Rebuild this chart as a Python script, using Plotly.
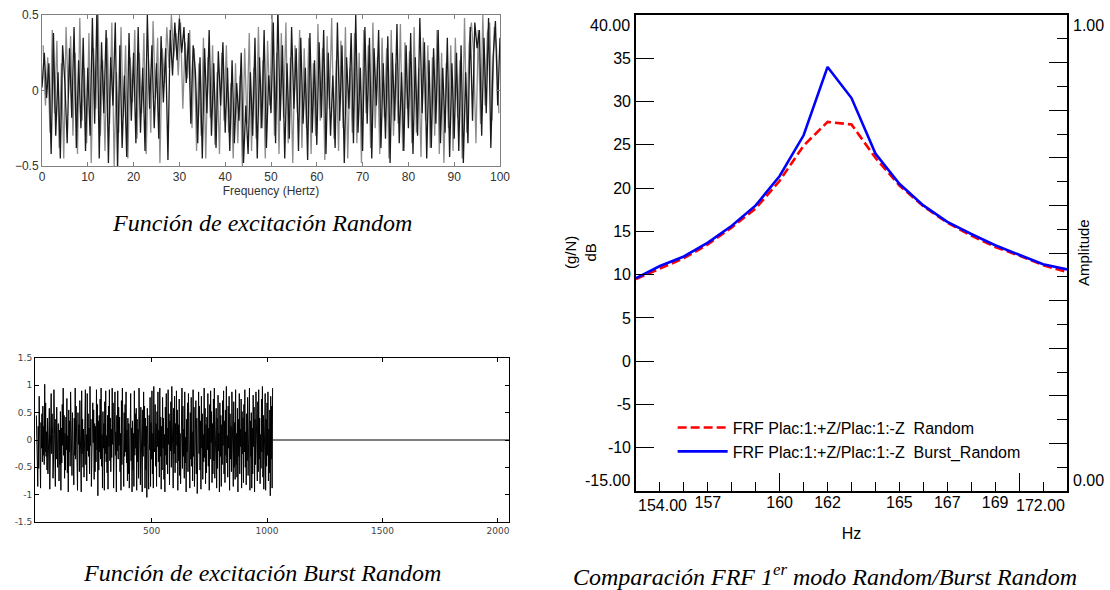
import numpy as np
import plotly.graph_objects as go

# --- Random excitation (top left), 0..100 Hz ---
random_dark = [0.02, 0.25, -0.05, 0.18, -0.42, 0.38, -0.30, 0.12, -0.45, 0.30, 0.05, -0.35, 0.28, -0.18, 0.42, -0.38, 0.20, -0.25, 0.35, -0.40, 0.15,
               -0.30, 0.48, -0.22, 0.55, -0.45, 0.32, -0.15, 0.40, -0.48, 0.22, -0.10, 0.45, -0.52, 0.30, -0.38, 0.10, -0.44, 0.38, -0.20, 0.25,
               -0.35, 0.42, -0.28, 0.15, -0.40, 0.50, -0.12, 0.30, -0.25, 0.18, -0.32, 0.36, -0.08, 0.28, -0.46, 0.40, 0.10, 0.45, 0.20, 0.48,
               0.25, 0.42, 0.05, 0.38, -0.22, 0.30, 0.12, -0.35, 0.22, -0.45, 0.28, -0.15, 0.40, -0.30, 0.18, -0.38, 0.26, -0.10, 0.32, -0.28,
               0.15, -0.40, 0.20, -0.35, 0.05, -0.20, 0.25, -0.48, -0.10, -0.42, 0.12, -0.30, 0.35, -0.45, 0.22, -0.25, 0.40, -0.38, 0.10, -0.15,
               0.45, -0.35, 0.55, -0.20, 0.30, -0.45, 0.18, -0.32, 0.42, -0.12, 0.28, -0.40, 0.35, -0.22, 0.15, -0.46, 0.38, -0.28, 0.20, -0.36,
               0.32, -0.18, 0.40, -0.42, 0.25, -0.30, 0.10, -0.38, 0.45, -0.20, 0.30, -0.48, 0.22, -0.12, 0.38, -0.35, 0.50, -0.28, 0.15, -0.40,
               0.42, -0.22, 0.35, -0.45, 0.28, -0.10, 0.40, -0.38, 0.18, -0.32, 0.36, -0.48, 0.25, -0.20, 0.44, -0.35, 0.12, -0.40, 0.30, -0.25,
               0.38, -0.42, 0.22, -0.30, 0.48, -0.15, 0.32, -0.45, 0.20, -0.38, 0.28, -0.22, 0.40, -0.35, 0.15, -0.28, 0.35, -0.44, 0.18, -0.32,
               0.25, -0.40, 0.30, -0.48, 0.12, -0.35, 0.42, -0.20, 0.45, 0.28, 0.40, -0.30, 0.35, -0.15, 0.48, -0.38, 0.22, 0.46, -0.10, 0.35]
random_grey = [0.30, -0.10, 0.22, -0.28, 0.40, -0.15, 0.33, -0.38, 0.18, -0.45, 0.42, -0.05, 0.36, -0.30, 0.25, -0.42, 0.48, -0.20, 0.15, -0.35,
               0.38, -0.48, 0.28, -0.12, 0.50, -0.30, 0.20, -0.40, 0.35, -0.22, 0.45, -0.50, 0.12, -0.28, 0.42, -0.18, 0.30, -0.45, 0.22, -0.08,
               0.40, -0.32, 0.25, -0.15, 0.38, -0.42, 0.20, -0.28, 0.46, -0.05, 0.35, -0.48, 0.28, 0.05, 0.42, 0.15, 0.50, 0.22, 0.38, 0.10,
               0.45, -0.12, 0.32, 0.08, 0.40, -0.25, 0.28, -0.40, 0.18, -0.30, 0.35, -0.45, 0.22, -0.18, 0.30, -0.36, 0.12, -0.42, 0.25, -0.20,
               0.30, -0.28, 0.05, -0.45, 0.18, -0.35, 0.10, -0.50, 0.28, -0.22, 0.38, -0.40, 0.15, -0.32, 0.42, -0.25, 0.20, -0.45, 0.33, -0.10,
               0.50, -0.30, 0.25, -0.42, 0.38, -0.18, 0.45, -0.35, 0.22, -0.48, 0.30, -0.15, 0.40, -0.38, 0.28, -0.25, 0.35, -0.42, 0.18, -0.30,
               0.44, -0.20, 0.28, -0.46, 0.36, -0.12, 0.48, -0.32, 0.20, -0.40, 0.33, -0.25, 0.42, -0.45, 0.15, -0.28, 0.38, -0.35, 0.25, -0.48,
               0.40, -0.15, 0.30, -0.38, 0.45, -0.25, 0.22, -0.42, 0.35, -0.18, 0.28, -0.45, 0.40, -0.30, 0.18, -0.22, 0.44, -0.40, 0.32, -0.12,
               0.26, -0.35, 0.42, -0.28, 0.15, -0.44, 0.35, -0.20, 0.30, -0.38, 0.22, -0.30, 0.40, -0.42, 0.25, -0.48, 0.18, -0.25, 0.30, -0.40,
               0.35, -0.18, 0.20, -0.45, 0.48, -0.28, 0.30, 0.45, 0.25, -0.35, 0.40, -0.22, 0.50, -0.10, 0.38, 0.45, -0.20, 0.42, 0.28, -0.15]

# --- Burst random (bottom left): samples 1..1024, then silence up to 2048 ---
burst_vals = [0.45, -0.38, 0.12, -0.85, 0.25, -0.52, 0.80, 0.10, -0.35, -0.88, 0.32, -0.15, 0.48, -0.40, 0.62, -0.28,
              0.25, -0.45, 1.02, -0.22, 0.68, -0.30, 0.15, -0.55, 0.40, -0.62, 0.05, -0.15, 0.58, -0.90, 0.35, -0.20,
              0.85, -0.25, 0.48, 0.10, -0.70, -0.40, 0.92, -0.12, 0.20, -0.85, 0.38, -0.35, 0.60, 0.05, -0.50, 0.28,
              0.30, -0.75, 0.18, -0.45, 0.52, -0.92, 0.22, -0.42, 0.65, -0.10, 0.95, -0.28, 0.45, -0.70, 0.12, -0.55,
              0.42, -0.18, 0.76, -0.60, 0.08, -0.95, 0.55, -0.22, 0.35, -0.48, 0.88, 0.02, -0.30, -0.65, 0.50, -0.12,
              0.18, -0.82, 0.40, -0.28, 0.95, -0.35, 0.62, 0.15, -0.45, -0.92, 0.50, -0.08, 0.28, -0.58, 0.72, -0.40,
              0.05, -0.95, 0.90, -0.25, 0.38, -0.50, 0.20, -0.68, 0.42, -0.15, 0.92, -0.45, 0.10, -0.75, 0.85, -0.20,
              0.48, -0.30, 0.22, -0.62, 0.98, -0.10, 0.38, -0.85, 0.15, -0.30, 0.68, -0.05, 0.55, -0.72, 0.30, -0.58,
              0.25, -0.40, 0.92, -0.18, 0.65, -1.02, 0.35, -0.55, 0.45, -0.22, 0.75, -0.35, 0.95, -0.48, 0.10, -0.88,
              0.52, -0.15, 0.30, -0.92, 0.70, -0.25, 0.90, -0.40, 0.08, -0.60, 0.45, -0.90, 0.62, -0.12, 0.92, -0.38,
              0.40, -0.58, 0.20, -0.32, 0.95, -0.08, 0.68, -0.88, 0.25, -0.45, 0.88, -0.28, 0.15, -0.95, 0.45, -0.20,
              0.90, -0.35, 0.60, -0.10, 0.42, -0.58, 0.12, -0.92, 0.72, -0.45, 0.95, -0.18, 0.32, -0.85, 0.50, -0.30,
              0.65, -0.22, 0.88, -0.42, 0.18, -0.75, 0.40, -0.62, 0.30, -0.88, 0.05, -0.52, 0.85, -0.38, 0.22, -0.95,
              0.35, -0.55, 0.12, -0.85, 0.90, -0.28, 0.48, -0.15, 0.58, -0.92, 0.38, -0.40, 0.20, -0.70, 0.95, -0.10,
              0.28, -0.82, 0.60, -0.35, 0.15, -0.95, 0.55, -0.30, 0.88, -0.12, 0.62, -0.88, 0.40, -0.55, 0.25, -1.05,
              0.58, -0.40, 0.20, -0.90, 0.45, -0.18, 0.78, -0.85, 0.32, -0.35, 0.90, -0.62, 0.12, -0.88, 0.98, -0.15,
              -0.22, 0.65, -0.48, 0.30, -0.85, 0.52, -0.12, 0.88, -0.40, 0.18, -0.68, 0.95, -0.30, 0.42, -0.90, 0.25,
              -0.55, 0.78, -0.15, 0.40, -0.72, 0.10, -0.95, 0.60, -0.28, 0.85, -0.45, 0.22, -0.62, 0.92, -0.08, 0.48,
              -0.82, 0.35, -0.20, 0.70, -0.50, 0.98, -0.35, 0.15, -0.88, 0.58, -0.25, 0.80, -0.60, 0.30, -0.42, 0.90,
              -0.10, 0.55, -0.92, 0.28, -0.38, 0.75, -0.65, 0.12, -0.80, 0.45, -0.18, 0.95, -0.52, 0.62, -0.30, 0.20,
              -0.70, 0.88, -0.42, 0.05, -0.95, 0.38, -0.22, 0.68, -0.58, 0.85, -0.12, 0.32, -0.88, 0.50, -0.35, 0.78,
              -0.48, 0.15, -0.75, 0.92, -0.30, 0.60, -0.85, 0.25, -0.08, 0.72, -0.62, 0.40, -0.98, 0.18, -0.45, 0.88,
              -0.25, 0.62, -0.55, 0.35, -0.90, 0.80, -0.15, 0.48, -0.72, 0.10, -0.40, 0.95, -0.32, 0.58, -0.80, 0.28,
              -0.60, 0.42, -0.18, 0.85, -0.48, 0.22, -0.92, 0.65, -0.35, 0.90, -0.05, 0.52, -0.78, 0.30, -0.62, 0.75,
              -0.38, 0.95, -0.70, 0.18, -0.25, 0.58, -0.88, 0.40, -0.52, 0.82, -0.20, 0.12, -0.95, 0.68, -0.30, 0.45,
              -0.85, 0.28, -0.45, 0.72, -0.10, 0.90, -0.62, 0.35, -0.78, 0.55, -0.28, 0.98, -0.42, 0.08, -0.68, 0.62,
              -0.15, 0.80, -0.92, 0.48, -0.35, 0.25, -0.58, 0.88, -0.20, 0.42, -0.85, 0.70, -0.50, 0.32, -0.72, 0.92,
              -0.45, 0.12, -0.68, 0.58, -0.95, 0.38, -0.30, 0.85, -0.62, 0.20, -0.12, 0.75, -0.88, 0.52, -0.25, 0.40,
              -0.78, 0.65, -0.22, 0.92, -0.50, 0.15, -0.82, 0.48, -0.38, 0.78, -0.65, 0.28, -0.18, 0.95, -0.92, 0.35,
              -0.30, 0.50, -0.88, 0.22, -0.62, 0.82, -0.12, 0.60, -0.95, 0.38, -0.45, 0.88, -0.28, 0.18, -0.75, 0.70,
              -0.58, 0.92, -0.35, 0.40, -0.80, 0.10, -0.52, 0.75, -0.22, 0.98, -0.68, 0.45, -0.90, 0.30, -0.15, 0.85,
              -0.92, 0.38, -0.48, 0.68, -0.28, 0.88, -0.75, 0.20, -0.60, 0.55, -1.02, 0.80, -0.35, 0.62, -0.88, 0.95]
tail_x = [1024, 2048]
tail_y = [0, 0]

# --- FRF comparison (right), 1 Hz steps ---
freq_hz = [154, 155, 156, 157, 158, 159, 160, 161, 162, 163, 164, 165, 166, 167, 168, 169, 170, 171, 172]
frf_random = [9.5, 10.7, 11.9, 13.5, 15.45, 17.65, 20.85, 24.9, 27.65, 27.35, 23.5, 20.3, 17.9, 16.0, 14.5, 13.2, 12.2, 11.1, 10.3]
frf_burst = [9.6, 11.0, 12.1, 13.7, 15.65, 18.0, 21.4, 26.1, 34.0, 30.4, 24.0, 20.5, 18.0, 16.1, 14.7, 13.4, 12.3, 11.2, 10.6]

db_ticks = [-10, -5, 0, 5, 10, 15, 20, 25, 30, 35]
hz_labels = [157, 160, 162, 165, 167, 169]

W, H = 1110, 590
def px_x(a, b):
    return [a / W, b / W]
def px_y(top, bottom):
    return [1 - bottom / H, 1 - top / H]

SANS = 'Arial, Liberation Sans, sans-serif'
SERIF = 'Times New Roman, Liberation Serif, serif'

fig = go.Figure()
fig.add_trace(go.Scatter(x=np.linspace(0.25, 99.75, len(random_grey)), y=random_grey, mode='lines',
                         line=dict(color='#8c8c8c', width=1.3), showlegend=False, xaxis='x', yaxis='y'))
fig.add_trace(go.Scatter(x=np.linspace(0, 100, len(random_dark)), y=random_dark, mode='lines',
                         line=dict(color='#1a1a1a', width=1.3), showlegend=False, xaxis='x', yaxis='y'))
fig.add_trace(go.Scatter(x=np.linspace(1, 1024, len(burst_vals)), y=burst_vals, mode='lines',
                         line=dict(color='black', width=1), showlegend=False, xaxis='x2', yaxis='y2'))
fig.add_trace(go.Scatter(x=tail_x, y=tail_y, mode='lines',
                         line=dict(color='black', width=1.2), showlegend=False, xaxis='x2', yaxis='y2'))
fig.add_trace(go.Scatter(x=freq_hz, y=frf_random, mode='lines', name='FRF Plac:1:+Z/Plac:1:-Z  Random',
                         line=dict(color='#ff0000', width=2.6, dash='9px,4px'), xaxis='x3', yaxis='y3'))
fig.add_trace(go.Scatter(x=freq_hz, y=frf_burst, mode='lines', name='FRF Plac:1:+Z/Plac:1:-Z  Burst_Random',
                         line=dict(color='#0000ff', width=2.6), xaxis='x3', yaxis='y3'))
# empty traces so the overlay axes get drawn
fig.add_trace(go.Scatter(x=[], y=[], showlegend=False, xaxis='x3', yaxis='y4'))
fig.add_trace(go.Scatter(x=[], y=[], showlegend=False, xaxis='x4', yaxis='y3'))

grey_ax = dict(showline=True, linecolor='#808080', linewidth=1, mirror='ticks', ticks='inside',
               ticklen=4, tickcolor='#808080', showgrid=False, zeroline=False, automargin=False,
               tickfont=dict(family=SANS, size=12, color='#333333'))
small_ax = dict(showline=True, linecolor='black', linewidth=1, mirror='ticks', ticks='inside',
                ticklen=4, tickcolor='black', showgrid=False, zeroline=False, automargin=False,
                tickfont=dict(family='DejaVu Sans', size=9, color='#444444'))

fig.update_layout(
    width=W, height=H, template='none',
    margin=dict(l=0, r=0, t=0, b=0, autoexpand=False),
    paper_bgcolor='white', plot_bgcolor='white',
    font=dict(family=SANS, color='black'),
    xaxis=dict(grey_ax, domain=px_x(42, 500), anchor='y', range=[0, 100], dtick=10,
               title=dict(text='Frequency (Hertz)', font=dict(family=SANS, size=12, color='#333333'), standoff=2)),
    yaxis=dict(grey_ax, domain=px_y(15, 166), anchor='x', range=[-0.5, 0.5], tickvals=[-0.5, 0, 0.5]),
    xaxis2=dict(small_ax, domain=px_x(35, 509), anchor='y2', range=[-5, 2048], tickvals=[500, 1000, 1500, 2000]),
    yaxis2=dict(small_ax, domain=px_y(358, 522), anchor='x2', range=[-1.5, 1.5],
                tickvals=[-1.5, -1, -0.5, 0, 0.5, 1, 1.5],
                ticktext=['-1.5', '-1', '-0.5', '0', '0.5', '1', '1.5']),
    xaxis3=dict(domain=px_x(636, 1067), anchor='y3', range=[154, 172], showline=True, mirror=True,
                linecolor='black', linewidth=1.6, showgrid=False, zeroline=False, automargin=False,
                tickvals=[160, 170], showticklabels=False, ticks='inside', ticklen=18, tickwidth=1.4,
                tickcolor='black',
                minor=dict(ticks='inside', dtick=1, tick0=154, ticklen=9, tickwidth=1.2, tickcolor='black')),
    xaxis4=dict(overlaying='x3', anchor='y3', side='bottom', range=[154, 172], showline=False,
                showgrid=False, zeroline=False, automargin=False, ticks='', tickvals=hz_labels,
                tickfont=dict(family=SANS, size=16, color='black'),
                title=dict(text='Hz', font=dict(family=SANS, size=16, color='black'), standoff=17)),
    yaxis3=dict(domain=px_y(15, 491), anchor='x3', range=[-15, 40], showline=True, linecolor='black',
                linewidth=1.6, showgrid=False, zeroline=False, automargin=False,
                tickvals=db_ticks, ticktext=[str(v) for v in db_ticks], ticks='inside', ticklen=18,
                tickwidth=1.4, tickcolor='black', tickfont=dict(family=SANS, size=16, color='black')),
    yaxis4=dict(overlaying='y3', anchor='x3', side='right', range=[0, 1], showline=True, linecolor='black',
                linewidth=1.6, showgrid=False, zeroline=False, automargin=False,
                tickvals=[0.1, 0.2, 0.3, 0.4, 0.5, 0.6, 0.7, 0.8, 0.9], showticklabels=False,
                ticks='inside', ticklen=18, tickwidth=1.4, tickcolor='black',
                minor=dict(ticks='inside', dtick=0.1, tick0=0.05, ticklen=10, tickwidth=1.2, tickcolor='black')),
    legend=dict(x=0.606, y=0.304, xanchor='left', yanchor='top', bgcolor='rgba(0,0,0,0)',
                font=dict(family=SANS, size=16, color='black'), itemwidth=50, tracegroupgap=0),
)

end_font = dict(family=SANS, size=16, color='black')
annotations = [
    dict(text='40.00', xref='x3 domain', yref='y3', x=0, y=40, xanchor='right', yanchor='top', xshift=-4),
    dict(text='-15.00', xref='x3 domain', yref='y3', x=0, y=-15, xanchor='right', yanchor='bottom', xshift=-4),
    dict(text='1.00', xref='x3 domain', yref='y4', x=1, y=1, xanchor='left', yanchor='top', xshift=4),
    dict(text='0.00', xref='x3 domain', yref='y4', x=1, y=0, xanchor='left', yanchor='bottom', xshift=4),
    dict(text='154.00', xref='x3', yref='y3 domain', x=154, y=0, xanchor='left', yanchor='top', yshift=-4),
    dict(text='172.00', xref='x3', yref='y3 domain', x=172, y=0, xanchor='right', yanchor='top', yshift=-4),
    dict(text='(g/N)<br>dB', xref='paper', yref='y3 domain', x=580 / W, y=0.5, textangle=-90,
         xanchor='center', yanchor='middle', font=dict(family=SANS, size=15, color='black')),
    dict(text='Amplitude', xref='paper', yref='y3 domain', x=1083 / W, y=0.5, textangle=-90,
         xanchor='center', yanchor='middle', font=dict(family=SANS, size=15, color='black')),
]
for a in annotations:
    a.setdefault('font', end_font)
    a['showarrow'] = False
    fig.add_annotation(**a)

cap_font = dict(family=SERIF, size=24, color='black')
captions = [
    ('<i>Función de excitación Random</i>', 262, 223),
    ('<i>Función de excitación Burst Random</i>', 262, 573),
    ('<i>Comparación FRF 1<sup>er</sup> modo Random/Burst Random</i>', 825, 575),
]
for text, cx, cy in captions:
    fig.add_annotation(text=text, xref='paper', yref='paper', x=cx / W, y=1 - cy / H,
                       xanchor='center', yanchor='middle', showarrow=False, font=cap_font)

# the page body has a default 8px margin; drop it so the figure sits at (0, 0)
fig.write_html('out.html', config={'displayModeBar': False},
               post_script="document.body.style.margin='0';")
